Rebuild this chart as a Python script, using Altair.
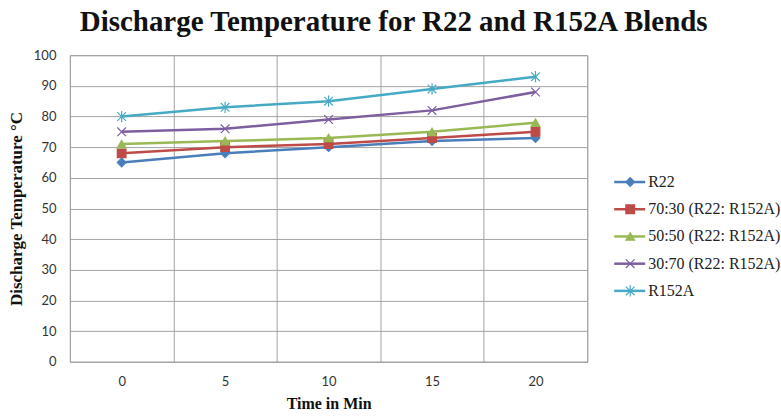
import altair as alt
import pandas as pd

# Discharge temperature (°C) over time for R22, R152A and their blends
times = [0, 5, 10, 15, 20]
series = [
    "R22",
    "70:30 (R22: R152A)",
    "50:50 (R22: R152A)",
    "30:70 (R22: R152A)",
    "R152A",
]
r22 = [65, 68, 70, 72, 73]
blend_70_30 = [68, 70, 71, 73, 75]
blend_50_50 = [71, 72, 73, 75, 78]
blend_30_70 = [75, 76, 79, 82, 88]
r152a = [80, 83, 85, 89, 93]

colors = ["#4A7EBB", "#BE4B48", "#98B954", "#7D5FA0", "#46AAC5"]
shapes = [
    "diamond",
    "square",
    "triangle-up",
    "M-1,-1L1,1M-1,1L1,-1",
    "M-1,-1L1,1M-1,1L1,-1M0,-1.3L0,1.3",
]

values = [r22, blend_70_30, blend_50_50, blend_30_70, r152a]
rows = []
for name, vals in zip(series, values):
    for t, v in zip(times, vals):
        rows.append({"time": t, "series": name, "temp": v})
df = pd.DataFrame(rows)
legend_df = pd.DataFrame({"series": series})

GRID = "#A3A3A3"
SERIF = "Liberation Serif"
SANS = "Lato"

color_scale = alt.Scale(domain=series, range=colors)
shape_scale = alt.Scale(domain=series, range=shapes)

x = alt.X(
    "time:O",
    scale=alt.Scale(type="band", paddingInner=0, paddingOuter=0),
    axis=alt.Axis(
        title="Time in Min",
        labelAngle=0,
        tickBand="extent",
        grid=True,
        gridColor=GRID,
        ticks=False,
        domainColor=GRID,
        labelFont=SANS,
        labelFontSize=13,
        labelColor="#333333",
        labelPadding=14,
        titleFont=SERIF,
        titleFontSize=16,
        titleFontWeight="bold",
        titleColor="#111111",
        titlePadding=7,
    ),
)
y = alt.Y(
    "temp:Q",
    scale=alt.Scale(domain=[0, 100]),
    axis=alt.Axis(
        title="Discharge Temperature °C",
        values=list(range(0, 101, 10)),
        grid=True,
        gridColor=GRID,
        ticks=False,
        domainColor=GRID,
        labelFont=SANS,
        labelFontSize=13,
        labelColor="#333333",
        labelPadding=14,
        titleFont=SERIF,
        titleFontSize=17,
        titleFontWeight="bold",
        titleColor="#111111",
        titlePadding=8,
    ),
)

color = alt.Color("series:N", scale=color_scale, legend=None)
fill = alt.Fill("series:N", scale=color_scale, legend=None)
shape = alt.Shape("series:N", scale=shape_scale, legend=None)

base = alt.Chart(df).encode(x=x, y=y)
lines = base.mark_line(strokeWidth=2.5).encode(color=color, detail="series:N")
points = base.mark_point(size=75, opacity=1, fillOpacity=1, strokeWidth=1.2).encode(
    stroke=alt.Stroke("series:N", scale=color_scale, legend=None),
    fill=fill,
    shape=shape,
)
main = alt.layer(lines, points).properties(
    width=518, height=307, view=alt.ViewBackground(stroke=GRID)
)

# Hand-drawn legend: a short line with the series marker, then its label
ly = alt.Y(
    "series:N",
    scale=alt.Scale(type="point", domain=series, range=[127, 236], padding=0),
    axis=None,
)
lbase = alt.Chart(legend_df).encode(y=ly)
lrule = lbase.mark_rule(strokeWidth=2.5).encode(
    x=alt.value(0), x2=alt.value(31), color=color
)
lpoint = lbase.mark_point(size=75, opacity=1, fillOpacity=1, strokeWidth=1.2).encode(
    x=alt.value(16),
    stroke=alt.Stroke("series:N", scale=color_scale, legend=None),
    fill=fill,
    shape=shape,
)
ltext = lbase.mark_text(
    align="left", baseline="middle", font=SERIF, fontSize=16, color="#222222"
).encode(x=alt.value(34), text="series:N")
legend = alt.layer(lrule, lpoint, ltext).properties(
    width=160, height=307, view=alt.ViewBackground(stroke=None)
)

chart = (
    alt.hconcat(main, legend, spacing=24)
    .resolve_scale(color="independent", shape="independent", fill="independent",
                   stroke="independent", y="independent")
    .properties(
        title=alt.TitleParams(
            "Discharge Temperature for R22 and R152A Blends",
            anchor="middle",
            font=SERIF,
            fontSize=29,
            fontWeight="bold",
            color="#111111",
            offset=12,
        ),
        padding={"left": 6, "top": 7, "right": 0, "bottom": 0},
        background="white",
    )
)

chart.save("out.html", embed_options={"renderer": "svg", "actions": False})
